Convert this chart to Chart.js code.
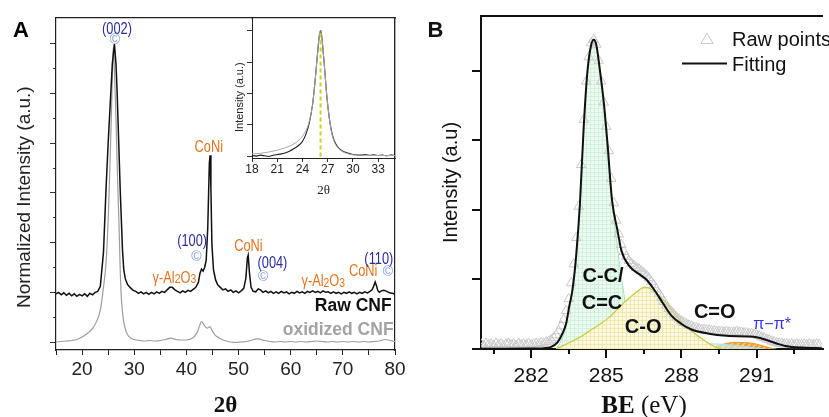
<!DOCTYPE html>
<html>
<head>
<meta charset="utf-8">
<script src="https://cdn.jsdelivr.net/npm/chart.js@4.4.0/dist/chart.umd.min.js"></script>
<style>
  html, body { margin: 0; padding: 0; background: #fff; }
  #wrap { position: relative; width: 829px; height: 417px; overflow: hidden; }
  canvas { position: absolute; top: 0; }
  #cA { left: 0; }
  #cInset { left: 200px; z-index: 2; }
  #cB { left: 410px; }
</style>
</head>
<body>
<div id="wrap">
  <canvas id="cA" width="410" height="417"></canvas>
  <canvas id="cInset" width="210" height="200"></canvas>
  <canvas id="cB" width="419" height="417"></canvas>
</div>
<script>
// ---- panel A : XRD, Raw CNF (offset +1) and oxidized CNF ----
const rawCnfTheta = [15,15.5,16,16.5,17,17.5,18,18.5,19,19.5,20,20.5,21,21.5,22,22.5,23,23.5,24.1,24.6,25.0,25.4,25.8,26.2,26.5,26.7,27.0,27.3,27.75,28.0,28.3,28.7,29.2,29.8,30.3,30.8,31.3,31.8,32.3,32.8,33.3,33.8,34.3,34.8,35.3,35.8,36.3,36.8,37.3,37.8,38.3,38.8,39.3,39.8,40.3,40.8,41.3,41.8,42.3,42.6,42.9,43.2,43.5,43.8,44.1,44.4,44.55,44.7,44.9,45.2,45.6,46.0,46.5,47,47.5,48,48.5,49,49.5,50,50.5,51,51.4,51.7,51.85,52.1,52.4,52.8,53.3,53.8,54.2,54.7,55.2,55.7,56.2,56.7,57.2,57.7,58.2,58.7,59.2,59.7,60.2,60.7,61.2,61.7,62.2,62.7,63.2,63.7,64.2,64.7,65.2,65.7,66.2,66.7,67.2,67.7,68.2,68.7,69.2,69.7,70.2,70.7,71.2,71.7,72.2,72.7,73.2,73.7,74.2,74.7,75.2,75.6,75.9,76.2,76.4,76.7,77.0,77.4,77.8,78.2,78.6,79.0,79.4,79.8,80];
const rawCnfInt = [0.97,1.0,0.95,0.99,0.94,0.98,0.93,0.97,0.92,0.96,0.93,0.97,0.92,0.98,0.95,1.0,1.02,1.12,1.8,3.1,4.0,4.8,5.6,6.0,5.6,5.1,4.1,3.1,1.85,1.45,1.27,1.16,1.1,1.04,1.02,0.98,1.01,0.97,1.0,0.96,1.0,0.97,1.01,0.98,1.02,1.0,1.05,1.1,1.1,1.05,1.02,0.99,1.03,1.0,1.04,1.02,1.06,1.1,1.2,1.38,1.47,1.43,1.5,1.65,2.3,3.6,3.76,3.1,1.95,1.45,1.25,1.15,1.1,1.05,1.07,1.02,1.05,1.0,1.03,0.99,1.03,1.08,1.28,1.7,1.75,1.38,1.1,1.02,1.01,1.07,1.05,1.0,1.03,0.99,1.02,0.98,1.01,0.98,1.02,0.99,1.01,0.97,1.0,0.98,1.02,0.99,1.01,0.98,1.02,1.0,1.03,1.0,1.02,0.99,1.03,1.0,1.01,0.98,1.01,0.98,1.0,0.97,1.0,0.98,1.01,0.98,1.0,0.97,1.0,0.98,1.01,0.99,1.02,1.05,1.12,1.21,1.15,1.04,1.0,1.03,1.04,1.03,1.01,0.99,0.98,0.97,0.96];
const oxCnfTheta = [15,16,17,18,19,20,21,22,22.8,23.5,24.1,24.6,25.0,25.3,25.6,25.85,26.0,26.2,26.5,26.8,27.1,27.3,27.5,27.8,28.2,28.7,29.3,30,31,32,33,34,35,36,37,38,39,40,41,41.6,42.1,42.5,42.9,43.3,43.7,44.0,44.5,45.0,45.5,46,46.8,47.6,48.5,49.5,50.5,51.5,52.3,53,53.6,54.3,55,56,57,58,59,60,61,62,63,64,65,66,67,68,69,70,71,72,73,74,75,76,77,77.6,78.2,78.8,79.4,80];
const oxCnfInt = [0.0,0.01,0.02,0.03,0.05,0.1,0.17,0.27,0.42,0.64,1.1,1.6,2.45,3.4,4.5,5.5,5.95,5.5,4.5,3.3,2.3,1.5,0.95,0.55,0.3,0.15,0.08,0.05,0.03,0.02,0.03,0.02,0.03,0.05,0.08,0.05,0.04,0.04,0.07,0.12,0.2,0.32,0.41,0.36,0.3,0.28,0.31,0.22,0.14,0.1,0.05,0.02,0.0,-0.01,0.0,0.01,0.03,0.05,0.07,0.05,0.03,0.01,0.0,0.01,0.0,0.01,0.0,0.01,0.0,0.01,0.02,0.01,0.0,0.01,0.0,0.01,0.0,0.01,0.0,0.01,0.0,0.01,0.02,0.04,0.05,0.04,0.02,0.01];

// ---- inset : (002) peak ----
const insetRawTheta = [18,18.5,19,19.5,20,20.5,21,21.5,22,22.5,23,23.5,24,24.4,24.8,25.2,25.5,25.8,26.0,26.15,26.3,26.6,26.9,27.2,27.5,27.8,28.2,28.6,29,29.5,30,30.5,31,31.5,32,32.5,33,33.5,34,34.5,35];
const insetRawInt = [0.03,0.01,0.04,0.02,0.0,0.04,0.06,0.08,0.12,0.17,0.25,0.34,0.48,0.7,1.05,1.65,2.4,3.3,3.85,4.0,3.8,2.9,1.9,1.2,0.75,0.48,0.3,0.2,0.14,0.1,0.06,0.05,0.04,0.06,0.03,0.05,0.03,0.04,0.02,0.04,0.03];
const insetOxTheta = [18,19,20,21,22,23,23.5,24,24.4,24.8,25.2,25.5,25.8,26.0,26.15,26.3,26.6,26.9,27.2,27.5,27.8,28.2,28.6,29,29.5,30,31,32,33,34,35];
const insetOxInt = [0.08,0.1,0.14,0.2,0.28,0.4,0.5,0.64,0.82,1.1,1.65,2.4,3.3,3.85,4.0,3.8,2.9,1.9,1.2,0.72,0.45,0.28,0.18,0.12,0.08,0.05,0.04,0.03,0.03,0.03,0.03];
const insetCenterTheta = [26.15, 26.15];
const insetCenterInt = [0, 4.0];

// ---- panel B : XPS C1s ----
const rawBE = [280.0,280.1,280.2,280.3,280.4,280.5,280.6,280.7,280.8,280.9,
  281.0,281.1,281.2,281.3,281.4,281.5,281.6,281.7,281.8,281.9,
  282.0,282.1,282.2,282.3,282.4,282.5,282.6,282.7,282.8,282.9,
  283.0,283.1,283.2,283.3,283.4,283.5,283.6,283.7,283.8,283.9,
  284.0,284.1,284.2,284.3,284.4,284.5,284.6,284.7,284.8,284.9,
  285.0,285.1,285.2,285.3,285.4,285.5,285.6,285.7,285.8,285.9,
  286.0,286.1,286.2,286.3,286.4,286.5,286.6,286.7,286.8,286.9,
  287.0,287.1,287.2,287.3,287.4,287.5,287.6,287.7,287.8,287.9,
  288.0,288.1,288.2,288.3,288.4,288.5,288.6,288.7,288.8,288.9,
  289.0,289.1,289.2,289.3,289.4,289.5,289.6,289.7,289.8,289.9,
  290.0,290.1,290.2,290.3,290.4,290.5,290.6,290.7,290.8,290.9,
  291.0,291.1,291.2,291.3,291.4,291.5,291.6,291.7,291.8,291.9,
  292.0,292.1,292.2,292.3,292.4,292.5,292.6,292.7,292.8,292.9,
  293.0,293.1,293.2,293.3,293.4,293.5];
const rawInt = [0.07,0.05,0.08,0.06,0.07,0.05,0.08,0.06,0.07,0.05,
  0.07,0.08,0.06,0.07,0.05,0.08,0.06,0.07,0.06,0.08,
  0.06,0.07,0.08,0.07,0.09,0.08,0.10,0.11,0.13,0.16,
  0.20,0.26,0.33,0.42,0.55,0.72,0.95,1.22,1.60,2.05,
  2.65,3.30,3.85,4.20,4.40,4.45,4.38,4.15,3.85,3.55,
  3.20,2.85,2.45,2.10,1.85,1.65,1.50,1.40,1.33,1.27,
  1.23,1.20,1.17,1.15,1.12,1.09,1.06,1.02,0.97,0.92,
  0.86,0.80,0.74,0.68,0.63,0.58,0.54,0.50,0.46,0.43,
  0.40,0.38,0.36,0.34,0.33,0.31,0.30,0.29,0.28,0.28,
  0.27,0.27,0.26,0.26,0.25,0.25,0.25,0.24,0.25,0.24,
  0.24,0.24,0.25,0.24,0.24,0.23,0.23,0.22,0.22,0.21,
  0.20,0.19,0.17,0.16,0.14,0.13,0.11,0.10,0.09,0.08,
  0.08,0.07,0.07,0.06,0.07,0.06,0.07,0.06,0.06,0.07,
  0.06,0.07,0.06,0.06,0.07,0.06];
const fitBE = [280.0,281.0,282.0,282.5,282.8,283.06,283.26,283.4,283.52,283.65,283.8,283.95,284.1,284.25,284.4,284.5,284.6,284.75,284.9,285.05,285.23,285.45,285.6,285.95,286.3,286.6,286.9,287.26,287.6,288.0,288.4,289.1,289.8,290.6,291.0,291.4,291.8,292.2,292.8,293.6];
const fitInt = [0.005,0.005,0.006,0.012,0.03,0.1,0.23,0.37,0.61,0.85,1.35,2.1,3.2,4.0,4.38,4.45,4.38,4.0,3.55,2.95,2.14,1.7,1.42,1.18,1.08,1.0,0.86,0.66,0.48,0.36,0.28,0.22,0.19,0.18,0.17,0.13,0.08,0.04,0.02,0.01];
const ccBE = [283.0,283.2,283.4,283.52,283.65,283.8,283.95,284.1,284.25,284.4,284.5,284.6,284.75,284.9,285.05,285.2,285.36,285.56,285.75,285.85,285.95,286.05];
const ccInt = [0.0,0.12,0.33,0.57,0.82,1.3,2.05,3.15,3.95,4.33,4.4,4.33,3.95,3.45,2.8,2.2,1.71,1.14,0.68,0.38,0.1,0.0];
const coBE = [283.0,283.46,283.9,284.37,284.8,285.16,285.69,286.21,286.54,286.8,287.1,287.4,287.7,288.05,288.4,288.7,289.1,289.35,289.6];
const coInt = [0.0,0.08,0.16,0.27,0.37,0.47,0.66,0.82,0.89,0.86,0.77,0.66,0.52,0.37,0.26,0.18,0.08,0.03,0.0];
const cdoBE = [286.5,287.0,287.8,288.6,289.4,290.2,290.8,291.3];
const cdoInt = [0.0,0.03,0.06,0.08,0.07,0.05,0.02,0.0];
const piBE = [289.0,289.4,289.8,290.2,290.6,291.0,291.3,291.6,291.8];
const piInt = [0.0,0.04,0.08,0.095,0.09,0.07,0.04,0.01,0.0];

// ---- fonts / colours ----
const SANS = '"Liberation Sans", Arial, sans-serif';
const SERIF = '"Liberation Serif", "Times New Roman", serif';
const BLUE = '#2b2ba3', LBLUE = '#7f9fd9', ORANGE = '#e8731c';
const SQUEEZE = 0.8; // labels in A are set in a condensed face

Chart.defaults.font.family = SANS;
Chart.defaults.color = '#1a1a1a';

const pairs = (xs, ys) => xs.map((x, i) => ({ x: x, y: ys[i] }));

// labels in data coordinates
const notesA = [
  { t: '(002)', x: 26.7, y: 6.28, c: BLUE },
  { t: '©', x: 26.3, y: 6.08, c: LBLUE, small: true },
  { t: 'CoNi', x: 44.3, y: 3.91, c: ORANGE },
  { t: '(100)', x: 41.1, y: 2.02, c: BLUE },
  { t: '©', x: 41.9, y: 1.71, c: LBLUE, small: true },
  { parts: ['γ-Al', '2', 'O', '3'], x: 37.7, y: 1.31, c: ORANGE },
  { t: 'CoNi', x: 51.9, y: 1.93, c: ORANGE },
  { t: '(004)', x: 56.5, y: 1.57, c: BLUE },
  { t: '©', x: 54.7, y: 1.31, c: LBLUE, small: true },
  { parts: ['γ-Al', '2', 'O', '3'], x: 66.25, y: 1.24, c: ORANGE },
  { t: 'CoNi', x: 73.9, y: 1.42, c: ORANGE },
  { t: '(110)', x: 76.9, y: 1.65, c: BLUE },
  { t: '©', x: 78.65, y: 1.4, c: LBLUE, small: true },
  { t: 'Raw CNF', x: 72.0, y: 0.73, c: '#111', bold: true },
  { t: 'oxidized CNF', x: 69.1, y: 0.23, c: '#a3a3a3', bold: true }
];
const notesB = [
  { t: 'C-C/', x: 284.87, y: 1.04 },
  { t: 'C=C', x: 284.83, y: 0.65 },
  { t: 'C-O', x: 286.47, y: 0.31 },
  { t: 'C=O', x: 289.33, y: 0.525 },
  { t: 'π−π*', x: 291.62, y: 0.345, pi: true }
];

function drawParts(ctx, parts, size) {
  const big = size + 'px ' + SANS, sml = Math.round(size * 0.8) + 'px ' + SANS;
  let w = 0;
  parts.forEach((p, i) => { ctx.font = i % 2 ? sml : big; w += ctx.measureText(p).width; });
  let x = -w / 2;
  const base = size * 0.36;
  ctx.textAlign = 'left';
  ctx.textBaseline = 'alphabetic';
  parts.forEach((p, i) => {
    ctx.font = i % 2 ? sml : big;
    ctx.fillText(p, x, base + (i % 2 ? size * 0.05 : 0));
    x += ctx.measureText(p).width;
  });
}

const notesPluginA = {
  id: 'notesA',
  afterDatasetsDraw(chart) {
    const { ctx, scales } = chart;
    notesA.forEach(n => {
      const px = scales.x.getPixelForValue(n.x), py = scales.y.getPixelForValue(n.y);
      ctx.save();
      ctx.fillStyle = n.c;
      ctx.translate(px, py);
      if (n.parts) {
        ctx.scale(SQUEEZE, 1);
        drawParts(ctx, n.parts, 16);
      } else {
        if (!n.bold && !n.small) ctx.scale(SQUEEZE, 1);
        ctx.textAlign = 'center';
        ctx.textBaseline = 'middle';
        ctx.font = n.bold ? 'bold 17.5px ' + SANS : n.small ? '14px ' + SANS : '16px ' + SANS;
        ctx.fillText(n.t, 0, 0);
      }
      ctx.restore();
    });
    ctx.save();
    ctx.fillStyle = '#000';
    ctx.font = 'bold 22px ' + SANS;
    ctx.textAlign = 'center';
    ctx.textBaseline = 'middle';
    ctx.fillText('A', 21, 31);
    ctx.restore();
  }
};

const frameAxis = (pos, min, max) => ({
  type: 'linear', position: pos, min: min, max: max,
  ticks: { display: false }, grid: { display: false },
  border: { color: '#222', width: 1.2 },
  afterFit: s => { if (pos === 'top') s.height = 0; else s.width = 0; }
});

new Chart(document.getElementById('cA'), {
  type: 'line',
  data: {
    datasets: [
      { label: 'Raw CNF', data: pairs(rawCnfTheta, rawCnfInt), borderColor: '#111', borderWidth: 1.5, pointRadius: 0, tension: 0 },
      { label: 'oxidized CNF', data: pairs(oxCnfTheta, oxCnfInt), borderColor: '#9d9d9d', borderWidth: 1.2, pointRadius: 0, cubicInterpolationMode: 'monotone' }
    ]
  },
  options: {
    responsive: false, animation: false, events: [],
    layout: { padding: { left: 0, top: 18, right: 15, bottom: 0 } },
    plugins: { legend: { display: false }, tooltip: { enabled: false } },
    scales: {
      x: {
        type: 'linear', position: 'bottom', min: 15, max: 80, weight: 1,
        ticks: { stepSize: 5, includeBounds: false, autoSkip: false, maxRotation: 0, padding: 3, color: '#222', font: { size: 19 },
          callback: v => (v % 10 === 0 ? String(v) : '') },
        grid: { drawOnChartArea: false, tickLength: 5, color: '#222' },
        border: { color: '#222', width: 1.2 },
        title: { display: true, text: '2θ', color: '#111', font: { family: SERIF, size: 23, weight: 'bold', lineHeight: 1 }, padding: { top: 0, bottom: -1 } },
        afterFit: s => { s.height = 67; }
      },
      y: {
        type: 'linear', position: 'left', min: -0.161, max: 6.523, weight: 1,
        ticks: { display: false, stepSize: 1, includeBounds: false },
        grid: { drawOnChartArea: false, tickLength: 6, color: '#333' },
        border: { color: '#222', width: 1.2 },
        title: { display: true, text: 'Normalized Intensity (a.u.)     ', color: '#222', font: { size: 19, lineHeight: 1 }, padding: { top: 15.5, bottom: 0 } },
        afterFit: s => { s.width = 56; }
      },
      yMinor: {
        type: 'linear', position: 'left', min: -0.161, max: 6.523, weight: 0,
        ticks: { display: false, stepSize: 0.5, includeBounds: false },
        afterBuildTicks: s => { s.ticks = s.ticks.filter(t => t.value <= 6.01); },
        grid: { drawOnChartArea: false, tickLength: 3, color: '#333' },
        border: { display: false },
        afterFit: s => { s.width = 0; }
      },
      xTop: frameAxis('top', 15, 80),
      yRight: frameAxis('right', 0, 1)
    }
  },
  plugins: [notesPluginA]
});

// ---- inset ----
const insetBg = {
  id: 'insetBg',
  beforeDraw(chart) {
    const a = chart.chartArea, ctx = chart.ctx;
    ctx.save();
    ctx.fillStyle = '#fff';
    ctx.fillRect(a.left, a.top, a.right - a.left, a.bottom - a.top);
    ctx.restore();
  }
};

new Chart(document.getElementById('cInset'), {
  type: 'line',
  data: {
    datasets: [
      { label: 'center', data: pairs(insetCenterTheta, insetCenterInt), borderColor: '#cad21a', borderWidth: 2, borderDash: [4, 3], pointRadius: 0 },
      { label: 'oxidized', data: pairs(insetOxTheta, insetOxInt), borderColor: '#a8a8a8', borderWidth: 1, pointRadius: 0, cubicInterpolationMode: 'monotone' },
      { label: 'raw', data: pairs(insetRawTheta, insetRawInt), borderColor: '#222', borderWidth: 1.1, pointRadius: 0, tension: 0.2 }
    ]
  },
  options: {
    responsive: false, animation: false, events: [],
    layout: { padding: { left: 0, top: 18, right: 15, bottom: 0 } },
    plugins: { legend: { display: false }, tooltip: { enabled: false } },
    scales: {
      x: {
        type: 'linear', position: 'bottom', min: 18, max: 35,
        ticks: { stepSize: 3, includeBounds: false, autoSkip: false, maxRotation: 0, padding: 0, color: '#222', font: { size: 12 } },
        grid: { drawOnChartArea: false, tickLength: 4, color: '#333' },
        border: { color: '#222', width: 1 },
        title: { display: true, text: '2θ', color: '#222', font: { family: SERIF, size: 13, lineHeight: 1 }, padding: { top: 0, bottom: 2.5 } },
        afterFit: s => { s.height = 42; }
      },
      y: {
        type: 'linear', position: 'left', min: -0.05, max: 4.4,
        ticks: { display: false, stepSize: 1, includeBounds: false },
        grid: { drawOnChartArea: false, tickLength: 5, color: '#333' },
        border: { color: '#222', width: 1 },
        title: { display: true, text: 'Intensity (a.u.)      ', color: '#222', font: { size: 11, lineHeight: 1 }, padding: { top: 34.5, bottom: 0 } },
        afterFit: s => { s.width = 52; }
      },
      xTop: frameAxis('top', 18, 35),
      yRight: frameAxis('right', 0, 1)
    }
  },
  plugins: [insetBg]
});

// ---- panel B ----
const ctxB = document.getElementById('cB').getContext('2d');
function gridPattern(bg, line) {
  const c = document.createElement('canvas');
  c.width = c.height = 4;
  const g = c.getContext('2d');
  g.fillStyle = bg; g.fillRect(0, 0, 4, 4);
  g.fillStyle = line; g.fillRect(0, 0, 4, 1); g.fillRect(0, 0, 1, 4);
  return ctxB.createPattern(c, 'repeat');
}
function stripePattern(bg, line) {
  const c = document.createElement('canvas');
  c.width = c.height = 6;
  const g = c.getContext('2d');
  g.fillStyle = bg; g.fillRect(0, 0, 6, 6);
  g.strokeStyle = line; g.lineWidth = 1.3;
  g.beginPath(); g.moveTo(0, 6); g.lineTo(6, 0); g.moveTo(-1, 1); g.lineTo(1, -1); g.moveTo(5, 7); g.lineTo(7, 5); g.stroke();
  return ctxB.createPattern(c, 'repeat');
}

const notesPluginB = {
  id: 'notesB',
  afterDatasetsDraw(chart) {
    const { ctx, scales } = chart;
    ctx.save();
    ctx.textAlign = 'center';
    ctx.textBaseline = 'middle';
    notesB.forEach(n => {
      const px = scales.x.getPixelForValue(n.x), py = scales.y.getPixelForValue(n.y);
      ctx.fillStyle = n.pi ? '#3838e0' : '#111';
      ctx.font = n.pi ? '16px ' + SANS : 'bold 20px ' + SANS;
      ctx.fillText(n.t, px, py);
    });
    // legend
    const raw = chart.data.datasets[1], fit = chart.data.datasets[0];
    ctx.strokeStyle = raw.pointBorderColor; ctx.fillStyle = 'rgba(255,255,255,0)';
    Chart.helpers.drawPoint(ctx, { pointStyle: 'triangle', radius: 7, borderWidth: 1 }, 297, 40);
    ctx.strokeStyle = fit.borderColor; ctx.lineWidth = 2;
    ctx.beginPath(); ctx.moveTo(272, 63.5); ctx.lineTo(317, 63.5); ctx.stroke();
    ctx.fillStyle = '#111';
    ctx.font = '20px ' + SANS;
    ctx.textAlign = 'left';
    ctx.fillText(raw.label, 322, 40);
    ctx.fillText(fit.label, 322, 65);
    // axis title BE (eV)
    ctx.textBaseline = 'alphabetic';
    ctx.font = 'bold 25px ' + SERIF;
    const w1 = ctx.measureText('BE').width;
    ctx.font = '25px ' + SERIF;
    const w2 = ctx.measureText(' (eV)').width;
    const x0 = 234 - (w1 + w2) / 2;
    ctx.font = 'bold 25px ' + SERIF;
    ctx.fillText('BE', x0, 413);
    ctx.font = '25px ' + SERIF;
    ctx.fillText(' (eV)', x0 + w1, 413);
    // panel letter
    ctx.font = 'bold 22px ' + SANS;
    ctx.textAlign = 'center';
    ctx.textBaseline = 'middle';
    ctx.fillText('B', 25.5, 31);
    ctx.restore();
  }
};

const isMult = (v, base, step) => Math.abs((v - base) / step - Math.round((v - base) / step)) < 1e-6;

new Chart(ctxB, {
  type: 'line',
  data: {
    datasets: [
      { label: 'Fitting', data: pairs(fitBE, fitInt), borderColor: '#111', borderWidth: 2, pointRadius: 0, cubicInterpolationMode: 'monotone', order: 0 },
      { label: 'Raw points', data: pairs(rawBE, rawInt), showLine: false, pointStyle: 'triangle', pointRadius: 5.5, pointBorderColor: '#c8c8c8', pointBackgroundColor: 'rgba(255,255,255,0)', pointBorderWidth: 1, order: 1 },
      { label: 'C-C/C=C', data: pairs(ccBE, ccInt), borderColor: '#9fe5b4', borderWidth: 1, backgroundColor: gridPattern('#effbf2', '#cff2da'), fill: 'origin', pointRadius: 0, cubicInterpolationMode: 'monotone', order: 3 },
      { label: 'C-O', data: pairs(coBE, coInt), borderColor: '#cacb33', borderWidth: 1.2, backgroundColor: gridPattern('#fdfae4', '#efe7ae'), fill: 'origin', pointRadius: 0, cubicInterpolationMode: 'monotone', order: 2 },
      { label: 'C=O', data: pairs(cdoBE, cdoInt), borderColor: '#a6e6f0', borderWidth: 1.2, backgroundColor: 'rgba(210,244,250,0.6)', fill: 'origin', pointRadius: 0, cubicInterpolationMode: 'monotone', order: 2 },
      { label: 'π-π*', data: pairs(piBE, piInt), borderColor: '#f39322', borderWidth: 1, backgroundColor: stripePattern('#f4a034', '#fbd6a0'), fill: 'origin', pointRadius: 0, cubicInterpolationMode: 'monotone', order: 2 }
    ]
  },
  options: {
    responsive: false, animation: false, events: [],
    layout: { padding: { left: 0, top: 16, right: 0, bottom: 0 } },
    plugins: { legend: { display: false }, tooltip: { enabled: false } },
    scales: {
      x: {
        type: 'linear', position: 'bottom', min: 280, max: 293.63, weight: 1,
        ticks: { stepSize: 3, includeBounds: false, autoSkip: false, maxRotation: 0, padding: 6, color: '#111', font: { size: 21 } },
        grid: { drawOnChartArea: false, tickLength: 9, color: '#111', lineWidth: 2 },
        border: { color: '#111', width: 2 },
        afterFit: s => { s.height = 68; }
      },
      xMinor: {
        type: 'linear', position: 'bottom', min: 280, max: 293.63, weight: 0,
        ticks: { display: false, stepSize: 1.5, includeBounds: false },
        afterBuildTicks: s => { s.ticks = s.ticks.filter(t => !isMult(t.value, 282, 3)); },
        grid: { drawOnChartArea: false, tickLength: 5, color: '#111', lineWidth: 2 },
        border: { display: false },
        afterFit: s => { s.height = 0; }
      },
      y: {
        type: 'linear', position: 'left', min: 0, max: 4.79,
        ticks: { display: false, stepSize: 1, includeBounds: false },
        grid: { drawOnChartArea: false, tickLength: 9, color: '#111', lineWidth: 2 },
        border: { color: '#111', width: 2 },
        title: { display: true, text: 'Intensity (a.u)', color: '#111', font: { size: 20, lineHeight: 1 }, padding: { top: 31, bottom: 0 } },
        afterFit: s => { s.width = 71; }
      },
      xTop: {
        type: 'linear', position: 'top', min: 280, max: 293.63,
        ticks: { display: false }, grid: { display: false },
        border: { color: '#111', width: 2 },
        afterFit: s => { s.height = 0; }
      }
    }
  },
  plugins: [notesPluginB]
});
</script>
</body>
</html>
